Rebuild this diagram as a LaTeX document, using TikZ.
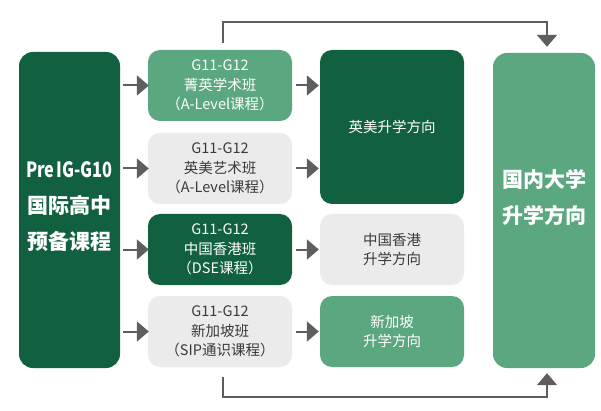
\documentclass[tikz,border=0pt]{standalone}
\usepackage{fontspec}
\setmainfont{Noto Sans CJK SC}
\usetikzlibrary{arrows.meta,calc}
\definecolor{dkgreen}{HTML}{11603F}
\definecolor{mdgreen}{HTML}{5BA77F}
\definecolor{ltgray}{HTML}{EBEBEB}
\definecolor{txtgray}{HTML}{3A3A3A}
\definecolor{arrgray}{HTML}{5E5E5E}
\begin{document}
\begin{tikzpicture}[x=1pt,y=-1pt,
  box/.style={rounded corners=12pt,minimum width=144pt,minimum height=71pt,inner sep=0pt,align=center,
    font=\fontsize{14.5pt}{19.5pt}\selectfont},
  dbox/.style={box,fill=dkgreen,text=white},
  mbox/.style={box,fill=mdgreen,text=white},
  gbox/.style={box,fill=ltgray,text=txtgray},
  conn/.style={draw=arrgray,line width=2pt,-{Triangle[length=12pt,width=20pt]}},
  bigtxt/.style={font=\fontsize{21pt}{36pt}\selectfont\bfseries}
]
\useasboundingbox (0,0) rectangle (601,411);
% left
\node[dbox,bigtxt,minimum width=101pt,minimum height=316pt,rounded corners=14pt] (L) at (69.5,210) {};
\node[bigtxt,text=white,align=center,inner sep=0pt] (Lt) at (69.5,207) {\scalebox{0.78}[1]{Pre\hspace{-2pt} IG-G10}\\国际高中\\预备课程};
% column 2
\node[mbox] (a1) at (220,85.5) {G11-G12\\菁英学术班\\（A-Level课程）};
\node[gbox] (a2) at (220,168.5) {G11-G12\\英美艺术班\\（A-Level课程）};
\node[dbox] (a3) at (220,249.5) {G11-G12\\中国香港班\\（DSE课程）};
\node[gbox] (a4) at (220,331.5) {G11-G12\\新加坡班\\（SIP通识课程）};
% column 3
\node[dbox,minimum height=154pt] (b1) at (392,127) {英美升学方向};
\node[gbox] (b2) at (392,249.5) {中国香港\\升学方向};
\node[mbox] (b3) at (392,331.5) {新加坡\\升学方向};
% right
\node[mbox,minimum width=102pt,minimum height=315pt,rounded corners=14pt] (R) at (544,210.5) {};
\node[bigtxt,text=white,align=center] (Rt) at (544,197) {国内大学\\升学方向};
% horizontal arrows
\foreach \n in {a1,a2,a3,a4}{
  \draw[conn] ([xshift=3pt]L.east |- \n.west) -- ([xshift=1pt]\n.west);
}
\draw[conn] ([xshift=4pt]a1.east) -- ([xshift=-1pt]b1.west |- a1.east);
\draw[conn] ([xshift=4pt]a2.east) -- ([xshift=-1pt]b1.west |- a2.east);
\draw[conn] ([xshift=4pt]a3.east) -- ([xshift=-1pt]b2.west);
\draw[conn] ([xshift=4pt]a4.east) -- ([xshift=-1pt]b3.west);
% top and bottom connectors
\coordinate (t1) at ($(a1.north)+(3,-7)$);
\coordinate (t2) at ($(R.north)+(3,-6)$);
\draw[conn] (t1) -- (t1 |- 0,22) -- (t2 |- 0,22) -- (t2);
\coordinate (u1) at ($(a4.south)+(3,10)$);
\coordinate (u2) at ($(R.south)+(3,5)$);
\draw[conn] (u1) -- (u1 |- 0,397) -- (u2 |- 0,397) -- (u2);
\end{tikzpicture}
\end{document}
